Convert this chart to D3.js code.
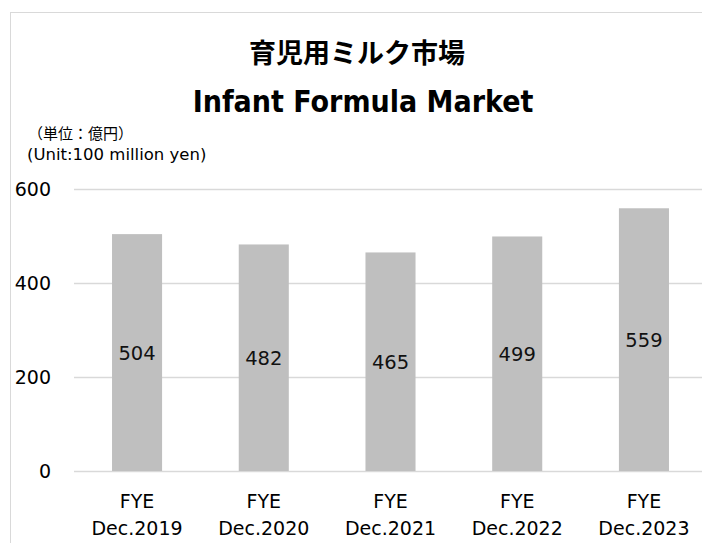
<!DOCTYPE html>
<html>
<head>
<meta charset="utf-8">
<script src="https://cdn.jsdelivr.net/npm/d3@7"></script>
<style>
  body { margin: 0; background: #fff; }
  svg { display: block; }
</style>
</head>
<body>
<div id="chart"></div>
<script>
const categories = ["2019", "2020", "2021", "2022", "2023"];
const values = [504, 482, 465, 499, 559];
const yTicks = [0, 200, 400, 600];

const width = 702, height = 543;
const margin = { top: 189, right: -5, bottom: 72, left: 74 };

const svg = d3.select("#chart")
  .append("svg")
  .attr("width", width)
  .attr("height", height);

// chart area border
svg.append("rect")
  .attr("x", 10.5).attr("y", 12.5)
  .attr("width", 720).attr("height", 560)
  .attr("fill", "none")
  .attr("stroke", "#d9d9d9");

const x = d3.scaleBand()
  .domain(categories)
  .range([margin.left, width - margin.right])
  .paddingInner(0.605)
  .paddingOuter(0.3);

const y = d3.scaleLinear()
  .domain([0, 600])
  .range([height - margin.bottom, margin.top]);

// gridlines
svg.append("g")
  .selectAll("line")
  .data(yTicks)
  .join("line")
  .attr("x1", margin.left).attr("x2", width)
  .attr("y1", d => Math.round(y(d)) + 0.5)
  .attr("y2", d => Math.round(y(d)) + 0.5)
  .attr("stroke", "#d9d9d9")
  .attr("stroke-width", 1.5);

// y axis labels
svg.append("g")
  .selectAll("text")
  .data(yTicks)
  .join("text")
  .attr("x", 51)
  .attr("y", d => y(d))
  .attr("dy", "0.36em")
  .attr("text-anchor", "end")
  .attr("font-family", "DejaVu Sans, sans-serif")
  .attr("font-size", 19)
  .attr("fill", "#000")
  .text(d => d);

// bars
svg.append("g")
  .selectAll("rect")
  .data(values)
  .join("rect")
  .attr("x", (d, i) => x(categories[i]))
  .attr("width", x.bandwidth())
  .attr("y", d => y(d))
  .attr("height", d => y(0) - y(d))
  .attr("fill", "#bfbfbf");

// value labels, centred in the bars
svg.append("g")
  .selectAll("text")
  .data(values)
  .join("text")
  .attr("x", (d, i) => x(categories[i]) + x.bandwidth() / 2)
  .attr("y", d => (y(d) + y(0)) / 2)
  .attr("dy", "0.36em")
  .attr("text-anchor", "middle")
  .attr("font-family", "DejaVu Sans, sans-serif")
  .attr("font-size", 19.5)
  .attr("fill", "#111")
  .text(d => d);

// x axis labels
const xl = svg.append("g")
  .selectAll("text")
  .data(categories)
  .join("text")
  .attr("x", d => x(d) + x.bandwidth() / 2)
  .attr("text-anchor", "middle")
  .attr("font-family", "DejaVu Sans, sans-serif")
  .attr("font-size", 19)
  .attr("fill", "#000");
xl.append("tspan")
  .attr("x", d => x(d) + x.bandwidth() / 2)
  .attr("y", 508)
  .text("FYE");
xl.append("tspan")
  .attr("x", d => x(d) + x.bandwidth() / 2)
  .attr("y", 535)
  .text(d => "Dec." + d);

// titles
svg.append("text")
  .attr("x", 357).attr("y", 63)
  .attr("text-anchor", "middle")
  .attr("font-family", "Noto Sans CJK JP, sans-serif")
  .attr("font-weight", "bold")
  .attr("font-size", 27)
  .attr("fill", "#000")
  .text("育児用ミルク市場");

svg.append("text")
  .attr("x", 363).attr("y", 112)
  .attr("text-anchor", "middle")
  .attr("font-family", "DejaVu Sans Condensed, DejaVu Sans, sans-serif")
  .attr("font-weight", "bold")
  .attr("font-size", 30)
  .attr("fill", "#000")
  .text("Infant Formula Market");

svg.append("text")
  .attr("x", 28).attr("y", 139)
  .attr("font-family", "Noto Sans CJK JP, sans-serif")
  .attr("font-size", 15)
  .attr("fill", "#000")
  .text("（単位：億円）");

svg.append("text")
  .attr("x", 27).attr("y", 160)
  .attr("font-family", "DejaVu Sans, sans-serif")
  .attr("font-size", 16.5)
  .attr("fill", "#000")
  .text("(Unit:100 million yen)");
</script>
</body>
</html>
